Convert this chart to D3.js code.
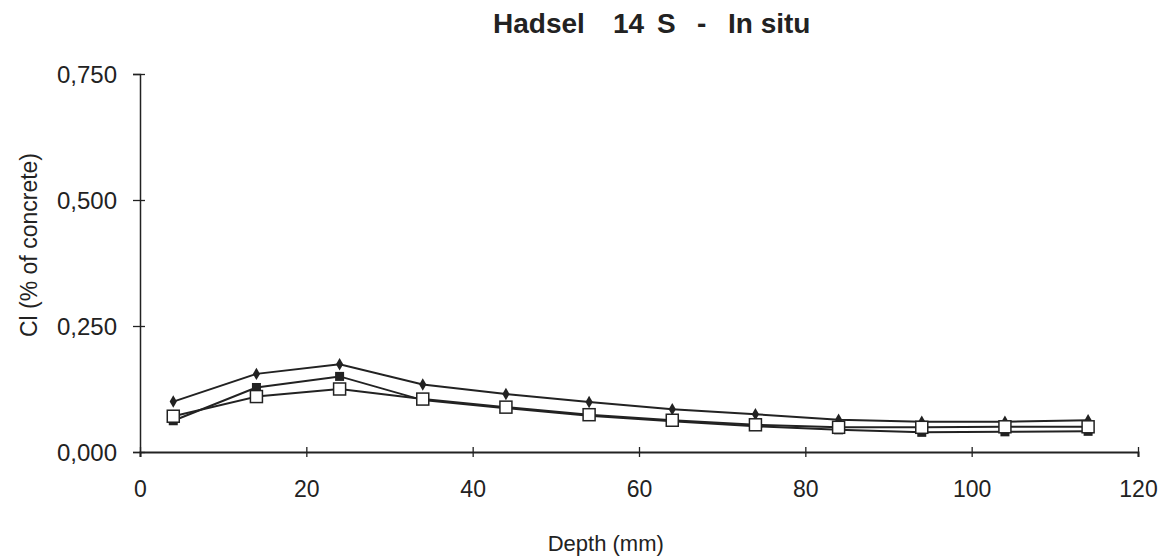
<!DOCTYPE html>
<html>
<head>
<meta charset="utf-8">
<script src="https://cdn.jsdelivr.net/npm/d3@7"></script>
<style>
  html, body { margin: 0; padding: 0; background: #fff; }
  svg { display: block; }
  text { font-family: "Liberation Sans", Arial, sans-serif; fill: #222; }
</style>
</head>
<body>
<svg id="chart" width="1169" height="557"></svg>
<script>
const depths = [4, 14, 24, 34, 44, 54, 64, 74, 84, 94, 104, 114];
const seriesDiamond = [0.100, 0.155, 0.174, 0.134, 0.115, 0.099, 0.085, 0.075, 0.064, 0.060, 0.060, 0.063];
const seriesFilledSquare = [0.062, 0.128, 0.150, 0.103, 0.087, 0.072, 0.061, 0.051, 0.044, 0.039, 0.040, 0.041];
const seriesOpenSquare = [0.071, 0.110, 0.125, 0.105, 0.089, 0.074, 0.063, 0.054, 0.049, 0.049, 0.050, 0.050];
const xTicks = [0, 20, 40, 60, 80, 100, 120];
const yTicks = [0, 0.25, 0.5, 0.75];
const titleParts = ["Hadsel", "14", "S", "-", "In situ"];
const xLabel = "Depth (mm)";
const yLabel = "Cl (% of concrete)";

const svg = d3.select("#chart");
const ink = "#222";

const x = d3.scaleLinear().domain([0, 120]).range([140, 1138]);
const y = d3.scaleLinear().domain([0, 0.75]).range([452, 74]);
const fmtY = v => d3.format(".3f")(v).replace(".", ",");

// Title (pieces spaced as in the original)
const titlePos = [493, 613, 657, 697, 728];
const title = svg.append("text")
  .attr("y", 33)
  .attr("font-size", 28).attr("font-weight", "bold");
titleParts.forEach((t, i) => {
  title.append("tspan").attr("x", titlePos[i]).text(t + (i < titleParts.length - 1 ? " " : ""));
});

// Y axis
const yAxis = svg.append("g")
  .attr("transform", `translate(${x(0)},0)`)
  .call(d3.axisLeft(y).tickValues(yTicks).tickFormat(fmtY).tickSize(7).tickPadding(16));
yAxis.select(".domain").attr("stroke", ink).attr("stroke-width", 1.5);
yAxis.selectAll(".tick line").attr("stroke", ink).attr("stroke-width", 1.3).attr("x2", 5).attr("x1", -7);
yAxis.selectAll(".tick text").attr("font-size", 24).attr("fill", ink).attr("dy", "0.36em")
  .style("font-family", '"Liberation Sans", Arial, sans-serif');

// X axis
const xAxis = svg.append("g")
  .attr("transform", `translate(0,${y(0)})`)
  .call(d3.axisBottom(x).tickValues(xTicks).tickFormat(d3.format("d")).tickSize(5).tickPadding(24));
xAxis.select(".domain").attr("stroke", ink).attr("stroke-width", 2);
xAxis.selectAll(".tick line").attr("stroke", ink).attr("stroke-width", 1.3).attr("y1", -5).attr("y2", 5);
xAxis.selectAll(".tick text").attr("font-size", 23).attr("fill", ink)
  .style("font-family", '"Liberation Sans", Arial, sans-serif');

// Axis labels
svg.append("text")
  .attr("x", x(56)).attr("y", 551)
  .attr("text-anchor", "middle").attr("font-size", 22)
  .text(xLabel);
svg.append("text")
  .attr("transform", "translate(37,245) rotate(-90)")
  .attr("text-anchor", "middle").attr("font-size", 23)
  .text(yLabel);

// Lines
const line = d3.line().x((d, i) => x(depths[i])).y(d => y(d));
const series = [
  { vals: seriesDiamond, marker: "diamond" },
  { vals: seriesFilledSquare, marker: "filled" },
  { vals: seriesOpenSquare, marker: "open" }
];
series.forEach(s => {
  svg.append("path").datum(s.vals).attr("d", line)
    .attr("fill", "none").attr("stroke", ink).attr("stroke-width", 2);
});
series.forEach(s => {
  const g = svg.append("g");
  s.vals.forEach((v, i) => {
    const cx = x(depths[i]), cy = y(v);
    if (s.marker === "diamond") {
      g.append("path")
        .attr("d", d3.symbol().type(d3.symbolDiamond).size(45)())
        .attr("transform", `translate(${cx},${cy})`)
        .attr("fill", ink);
    } else if (s.marker === "filled") {
      g.append("rect").attr("x", cx - 4.5).attr("y", cy - 4.5)
        .attr("width", 9).attr("height", 9).attr("fill", ink);
    } else {
      g.append("rect").attr("x", cx - 6).attr("y", cy - 6)
        .attr("width", 12).attr("height", 12)
        .attr("fill", "#fff").attr("stroke", ink).attr("stroke-width", 1.5);
    }
  });
});
</script>
</body>
</html>
